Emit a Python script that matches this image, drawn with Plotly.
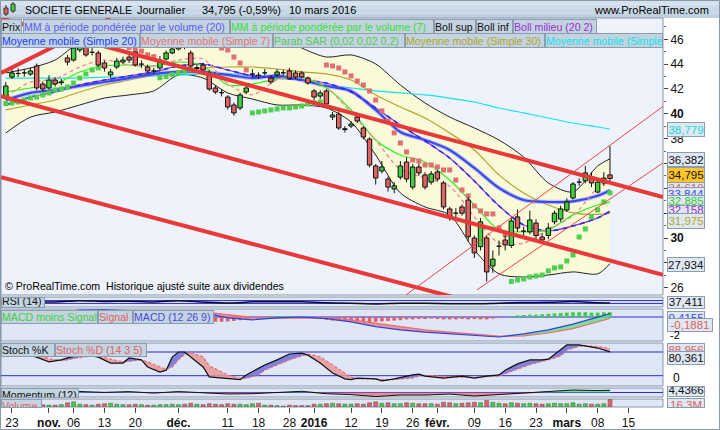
import plotly.graph_objects as go

# ---------------- data ----------------
# day index 0 = 22 Oct 2015 ... 98 = 10 Mar 2016 (trading days)
OPEN = [41.27, 42.96, 43.25, 43.30, 43.20, 43.85, 42.40, 42.08, 42.72, 42.50,
        44.50, 44.33, 45.14, 45.46, 44.95, 44.90, 44.10, 43.13, 43.77, 44.17,
        44.57, 44.98, 44.00, 43.77, 43.45, 43.69, 44.41, 44.90, 45.22, 45.78,
        44.90, 43.65, 43.93, 43.29, 42.08, 41.70, 41.35, 40.71, 40.47, 41.76,
        43.20, 43.10, 43.30, 42.88, 43.13, 43.30, 43.45, 43.29, 43.29, 42.88,
        41.84, 41.43, 41.84, 39.74, 39.98, 38.73, 39.02, 39.74, 38.86, 37.97,
        35.80, 35.40, 34.75, 33.95, 34.90, 36.12, 34.10, 35.72, 35.08, 34.50,
        35.32, 34.43, 32.34, 32.00, 32.50, 33.06, 30.00, 29.30, 30.00, 27.75,
        29.34, 29.84, 29.40, 31.70, 30.55, 30.50, 31.20, 30.08, 30.20, 31.30,
        31.53, 32.26, 33.22, 34.50, 34.60, 34.90, 33.70, 34.43, 35.08]
HIGH = [42.56, 43.69, 43.65, 43.60, 43.70, 44.05, 42.60, 43.10, 42.95, 42.80,
        44.75, 45.50, 45.80, 45.70, 45.30, 45.10, 44.30, 43.60, 44.50, 44.60,
        44.80, 45.00, 44.30, 43.95, 43.70, 44.65, 45.10, 45.45, 45.90, 46.00,
        45.10, 44.00, 44.10, 43.50, 42.30, 42.00, 41.50, 40.90, 41.70, 42.30,
        43.60, 43.35, 43.60, 43.10, 43.60, 43.55, 43.70, 43.50, 43.45, 43.00,
        42.00, 41.90, 42.00, 40.15, 40.20, 39.00, 39.40, 40.05, 39.00, 38.10,
        35.95, 36.20, 34.95, 34.50, 36.20, 36.50, 35.95, 36.00, 35.30, 35.40,
        35.50, 34.60, 32.50, 32.40, 32.70, 33.30, 30.20, 31.60, 30.20, 29.00,
        29.80, 30.20, 31.70, 32.30, 30.90, 32.20, 31.50, 30.40, 31.20, 32.20,
        32.60, 33.20, 34.50, 34.80, 35.80, 35.30, 34.80, 35.30, 37.40]
LOW = [41.11, 42.80, 42.95, 43.00, 43.05, 41.90, 41.80, 41.95, 42.20, 42.30,
       43.90, 44.20, 44.95, 44.60, 44.70, 43.80, 43.40, 42.90, 43.60, 44.00,
       44.10, 43.80, 43.70, 43.30, 43.25, 43.50, 44.30, 44.80, 45.10, 45.20,
       43.70, 43.35, 43.35, 41.85, 41.60, 41.40, 40.35, 39.85, 40.30, 41.60,
       42.95, 42.80, 43.10, 42.40, 42.95, 43.10, 42.75, 42.80, 42.85, 42.35,
       41.10, 41.20, 40.60, 39.50, 38.70, 38.50, 38.85, 39.25, 37.95, 35.70,
       34.30, 35.20, 33.75, 33.60, 34.70, 34.50, 33.90, 35.00, 33.90, 34.30,
       34.55, 32.30, 31.40, 31.50, 31.80, 29.70, 28.40, 29.00, 26.50, 27.20,
       28.60, 29.00, 29.20, 30.50, 30.20, 30.30, 29.90, 29.60, 29.90, 31.10,
       31.30, 32.10, 33.10, 34.20, 34.40, 34.10, 33.60, 34.20, 34.60]
CLOSE = [42.24, 43.29, 43.30, 43.26, 43.45, 42.08, 42.00, 42.72, 42.40, 42.57,
         44.17, 45.30, 45.46, 44.74, 45.00, 43.93, 43.69, 43.37, 44.25, 44.33,
         44.33, 43.93, 44.05, 43.45, 43.50, 44.33, 44.90, 45.22, 45.62, 45.38,
         43.85, 43.72, 43.53, 42.00, 41.76, 41.65, 40.55, 40.07, 41.52, 42.08,
         43.25, 43.05, 43.35, 42.56, 43.37, 43.28, 42.88, 42.96, 42.96, 42.48,
         41.35, 41.68, 40.79, 39.90, 38.86, 38.80, 39.18, 39.42, 38.13, 35.88,
         34.83, 35.72, 34.10, 34.20, 35.80, 34.75, 35.72, 35.24, 34.10, 35.16,
         34.75, 32.50, 31.70, 32.05, 32.00, 30.10, 28.80, 31.30, 27.27, 28.30,
         29.40, 29.44, 31.37, 30.80, 30.60, 31.45, 30.20, 29.84, 30.80, 32.00,
         32.34, 32.90, 34.35, 34.55, 35.24, 34.43, 34.50, 34.83, 34.795]
VOLUME_M = [6, 5, 4, 4, 5, 7, 5, 4, 4, 5,
            9, 11, 6, 5, 4, 6, 7, 8, 6, 5,
            5, 6, 5, 4, 4, 5, 5, 6, 5, 6,
            8, 6, 5, 7, 6, 5, 7, 6, 6, 5,
            7, 8, 4, 4, 3, 2, 4, 3, 3, 3,
            6, 6, 7, 8, 7, 6, 6, 7, 6, 9,
            11, 8, 9, 7, 7, 9, 8, 7, 7, 7,
            6, 10, 9, 7, 8, 9, 10, 9, 14, 10,
            8, 7, 9, 8, 7, 8, 7, 6, 7, 8,
            7, 7, 9, 6, 7, 6, 6, 7, 16.3]
SAR = [40.83, 40.87, 40.95, 41.11, 41.27, 41.35, 41.52, 41.68, 41.92, 42.00,
       42.16, 42.48, 42.88, 43.21, 43.53, 43.70,
       45.80, 45.72, 45.60, 45.50, 45.35, 45.20, 45.05, 44.75, 44.60,
       42.90, 43.00, 43.15, 43.30, 43.42, 43.55,
       46.00, 45.95, 45.80, 45.60, 45.30, 45.14, 44.57, 44.09, 43.53,
       40.07, 40.15, 40.23, 40.31, 40.39, 40.47, 40.47, 40.55, 40.63, 40.79, 40.87, 40.95,
       43.93, 43.85, 43.69, 43.37, 43.05, 42.64, 42.32, 41.84, 41.11, 40.23,
       39.42, 38.46, 37.65, 36.93, 36.28, 36.20, 35.88, 35.88, 35.72, 35.48,
       35.48, 34.67, 33.87, 33.39, 32.58, 32.18, 31.94, 31.94, 30.81, 30.25,
       26.50, 26.62, 26.70, 26.86, 26.94, 27.02, 27.35, 27.59, 27.67, 28.15,
       28.63, 30.08, 30.73, 31.70, 32.26, 32.90, 33.63]

TICK_DAYS = [1, 7, 11, 16, 21, 28, 36, 41, 46, 50, 56, 61, 66, 70, 76, 81, 86, 91, 96, 101]
TICK_LABELS = ["23", "<b>nov.</b>", "06", "13", "20", "<b>déc.</b>", "11", "18", "28",
               "<b>2016</b>", "12", "19", "26", "<b>févr.</b>", "09", "16", "23",
               "<b>mars</b>", "08", "15"]
PRICE_TICKS = [26, 28, 30, 32, 34, 36, 38, 40, 42, 44, 46]
PRICE_TICK_LABELS = ["26", "28", "<b>30</b>", "32", "34", "36", "38", "<b>40</b>", "42", "44", "46"]

# indicator values read every 4 sessions (day index)
IND_DAYS = [0, 4, 8, 12, 16, 20, 24, 28, 32, 36, 40, 44, 48, 52, 56, 60, 64, 68, 72, 76, 80, 84, 88, 92, 96, 98]
BOLL_SUP = [43.29, 43.69, 44.33, 45.78, 46.43, 46.59, 46.10, 45.46, 46.27, 46.75, 46.75, 46.35, 45.30,
            44.57, 44.74, 44.01, 42.32, 40.87, 39.74, 38.86, 37.89, 36.52, 34.43, 33.71, 35.80, 36.382]
BOLL_INF = [38.46, 39.74, 40.15, 40.71, 41.27, 41.52, 41.84, 43.13, 42.88, 41.68, 41.19, 40.71, 40.71,
            40.47, 39.34, 36.68, 33.63, 32.50, 31.86, 29.04, 27.11, 26.86, 27.02, 27.27, 27.11, 27.934]
SMA20 = [40.71, 41.35, 41.76, 42.32, 42.72, 43.05, 43.37, 43.85, 44.01, 43.53, 43.05, 42.88, 42.72,
         42.48, 41.76, 40.47, 39.10, 37.81, 36.44, 34.59, 32.58, 31.05, 30.57, 30.97, 31.62, 32.158]
VWMA20 = [41.11, 41.68, 41.92, 42.24, 42.56, 42.88, 43.21, 43.37, 43.37, 43.13, 42.88, 43.05, 42.72,
          42.24, 41.84, 40.31, 38.54, 37.89, 37.09, 35.64, 34.03, 33.06, 32.90, 32.95, 33.40, 33.844]
SMA30 = [40.31, 40.71, 41.11, 41.76, 42.32, 42.72, 43.13, 43.45, 43.69, 43.77, 43.77, 43.61, 43.37,
         43.21, 42.72, 41.52, 40.55, 39.66, 38.46, 37.09, 35.08, 33.63, 32.66, 32.02, 31.90, 31.975]
SMA_LONG = [42.88, 42.88, 42.88, 42.88, 42.96, 42.96, 43.05, 43.13, 43.21, 43.21, 43.13, 42.96, 42.72,
            42.32, 42.08, 41.84, 41.68, 41.52, 41.27, 40.95, 40.47, 40.07, 39.66, 39.26, 38.94, 38.779]
VWMA7 = [41.76, 42.08, 42.40, 43.37, 43.85, 43.93, 43.85, 44.17, 43.85, 42.32, 42.40, 42.80, 42.96,
         42.08, 40.31, 37.89, 36.68, 36.12, 34.67, 32.66, 30.65, 30.49, 30.65, 31.86, 32.66, 32.885]
SMA7 = [41.35, 42.56, 42.80, 43.77, 44.33, 43.93, 43.85, 44.33, 44.41, 42.44, 41.55, 42.74, 43.05,
        42.16, 40.08, 37.87, 35.52, 34.84, 34.17, 31.70, 29.60, 29.60, 30.72, 31.78, 34.04, 34.61]
RSI = [60, 58, 50, 68, 58, 62, 50, 68, 50, 35, 52, 55, 53, 38, 32, 22, 33, 32, 27, 25, 34, 42, 45, 58, 40, 37.411]
MACD = [0.35, 0.45, 0.55, 0.85, 0.9, 0.8, 0.65, 0.75, 0.55, -0.1, -0.35, -0.1, 0.0, -0.2, -0.6, -1.2,
        -1.6, -1.9, -2.1, -2.3, -2.5, -2.1, -1.6, -0.9, 0.0, 0.4155]
SIGNAL = [0.3, 0.4, 0.5, 0.65, 0.8, 0.82, 0.75, 0.72, 0.65, 0.3, -0.05, -0.15, -0.1, -0.1, -0.35, -0.75,
          -1.2, -1.6, -1.9, -2.15, -2.4, -2.35, -2.0, -1.45, -0.6, -0.1881]
MOMENTUM = [1.0, 0.5, -0.8, 2.0, 0.24, 1.76, -1.2, 1.9, -0.8, -2.95, -2.4, -0.16, 2.4, -2.46, -4.2,
            -8.1, -5.0, -5.1, -3.1, -7.0, -4.7, -1.1, 2.0, 4.95, 3.9, 4.4366]
MACD_HIST = [0.05, 0.05, 0.08, 0.1, 0.1, 0.08, 0.05, 0.05, 0.05, 0.1, 0.2, 0.25, 0.25, 0.22, 0.2, 0.15,
             0.1, 0.05, 0.0, -0.05, -0.05, -0.1, -0.1, -0.1, -0.05, 0.0, 0.05, 0.05,
             0.05, -0.05, -0.2, -0.3, -0.4, -0.5, -0.6, -0.6, -0.55, -0.5,
             -0.4, -0.2, -0.1, 0.0, 0.05, 0.1, 0.1, 0.12, 0.1, 0.05,
             0.0, -0.05, -0.15, -0.25, -0.35, -0.45, -0.5, -0.5, -0.55, -0.6,
             -0.65, -0.65, -0.6, -0.55, -0.5, -0.45, -0.4, -0.3, -0.3, -0.25,
             -0.25, -0.2, -0.25, -0.3, -0.3, -0.3, -0.25, -0.3, -0.25, -0.3,
             -0.3, -0.2, -0.1, 0.0, 0.1, 0.2, 0.25, 0.3, 0.3, 0.35,
             0.4, 0.45, 0.5, 0.55, 0.6, 0.6, 0.6, 0.55, 0.55, 0.6, 0.6]

STOCH_DAYS = [0, 2, 5, 7, 9, 10, 12, 14, 15, 17, 19, 20, 22, 23, 25, 26, 27, 28, 29, 30, 32, 33, 36, 38,
              39, 41, 42, 44, 46, 48, 49, 51, 53, 55, 56, 57, 60, 61, 63, 66, 67, 68, 71, 74, 76, 78,
              80, 81, 83, 85, 87, 88, 90, 91, 93, 94, 96, 98]
STOCH_K = [75, 78, 67, 55, 60, 65, 72, 70, 67, 52, 52, 65, 60, 42, 29, 34, 67, 80, 80, 67, 42, 17, 12, 10,
           22, 39, 47, 60, 75, 77, 72, 52, 27, 12, 10, 14, 12, 7, 12, 22, 24, 19, 14, 19, 14, 19, 22, 34,
           50, 60, 60, 62, 85, 98, 98, 95, 90, 80.361]
STOCH_D = [72, 76, 74, 63, 58, 60, 66, 70, 69, 62, 55, 56, 60, 55, 42, 36, 42, 60, 74, 78, 68, 45, 22, 13,
           13, 22, 34, 47, 60, 70, 75, 68, 48, 28, 16, 12, 12, 10, 10, 14, 19, 21, 18, 16, 16, 17, 19, 25,
           36, 48, 56, 60, 70, 85, 94, 96, 94, 88.956]

# hand-drawn trend lines: (day, price) end points
THICK_LINES = [((-0.78, 47.69), (106.6, 33.30)),
               ((-0.78, 41.41), (106.6, 27.03)),
               ((-0.78, 34.89), (106.6, 20.77)),
               ((-0.78, 43.28), (17.0, 47.70))]
THIN_LINES = [((64.9, 25.41), (106.6, 40.60)),
              ((76.4, 25.82), (106.6, 36.05))]

# ---------------- layout constants ----------------
FONT = "Liberation Sans, Arial, sans-serif"
W, H = 720, 430
PL, PR, PT, PB = 1, 663, 18, 407
BODY_HALF = 0.36  # candle body half width in sessions


def px_x(px):
    return (px - PL) / (PR - PL)


def px_y(py):
    return (PB - py) / (PB - PT)


PANELS = {  # top, bottom pixel rows
    "y": (18, 295), "y2": (297, 307), "y3": (309, 341),
    "y4": (343, 386), "y5": (388, 397), "y6": (399, 407)}

DAYS = list(range(len(CLOSE)))
fig = go.Figure()

# --- Bollinger band fill + lines
sp = dict(shape="spline", smoothing=0.8)
fig.add_trace(go.Scatter(x=IND_DAYS, y=BOLL_INF, mode="lines", line=dict(color="#222", width=1, **sp)))
fig.add_trace(go.Scatter(x=IND_DAYS, y=BOLL_SUP, mode="lines", fill="tonexty", fillcolor="rgba(250,250,215,0.95)",
                         line=dict(color="#222", width=1, **sp)))
fig.add_trace(go.Scatter(x=IND_DAYS, y=SMA_LONG, mode="lines", line=dict(color="#11e3ef", width=1.2, **sp)))
fig.add_trace(go.Scatter(x=IND_DAYS, y=SMA30, mode="lines", line=dict(color="#b4a52a", width=1.2, **sp)))
fig.add_trace(go.Scatter(x=IND_DAYS, y=VWMA20, mode="lines", line=dict(color="rgba(120,140,255,0.45)", width=4.5, **sp)))
fig.add_trace(go.Scatter(x=IND_DAYS, y=VWMA20, mode="lines", line=dict(color="#3a48f2", width=2.2, **sp)))
fig.add_trace(go.Scatter(x=IND_DAYS, y=SMA20, mode="lines", line=dict(color="#9a2fd0", width=1.2, **sp)))
fig.add_trace(go.Scatter(x=IND_DAYS, y=SMA20, mode="lines", line=dict(color="#2030ff", width=1.6, dash="5px,4px", **sp)))
fig.add_trace(go.Scatter(x=IND_DAYS, y=VWMA7, mode="lines", line=dict(color="#29ef29", width=1.2, **sp)))
fig.add_trace(go.Scatter(x=IND_DAYS, y=SMA7, mode="lines", line=dict(color="#f08a8a", width=1.3, dash="4px,3px", **sp)))

# --- parabolic SAR
sar_col = ["#4fcf4f" if s < c else "#e07070" for s, c in zip(SAR, CLOSE)]
fig.add_trace(go.Scatter(x=DAYS, y=SAR, mode="markers",
                         marker=dict(symbol="square", size=5, color=sar_col, line=dict(width=0))))

# --- candles (drawn as scatter paths so they sit above the indicator lines)
wx, wy = [], []
for d in DAYS:
    wx += [d, d, None]
    wy += [LOW[d], HIGH[d], None]
fig.add_trace(go.Scatter(x=wx, y=wy, mode="lines", line=dict(color="#111", width=1)))
for rising, colr in [(True, "#3fcf3f"), (False, "#e06262")]:
    bx, by = [], []
    for d in DAYS:
        if (CLOSE[d] >= OPEN[d]) == rising:
            o, c = OPEN[d], CLOSE[d]
            bx += [d - BODY_HALF, d + BODY_HALF, d + BODY_HALF, d - BODY_HALF, d - BODY_HALF, None]
            by += [o, o, c, c, o, None]
    fig.add_trace(go.Scatter(x=bx, y=by, mode="lines", fill="toself", fillcolor=colr,
                             line=dict(color="#111", width=1)))

# --- trend lines
for (a, b) in THICK_LINES:
    fig.add_trace(go.Scatter(x=[a[0], b[0]], y=[a[1], b[1]], mode="lines", line=dict(color="#e83838", width=4)))
for (a, b) in THIN_LINES:
    fig.add_trace(go.Scatter(x=[a[0], b[0]], y=[a[1], b[1]], mode="lines", line=dict(color="#ee4444", width=1)))

# --- RSI
fig.add_trace(go.Scatter(x=IND_DAYS, y=RSI, yaxis="y2", mode="lines", line=dict(color="#111", width=1.5, **sp)))

# --- MACD
hist_col = ["#3fcf3f" if v >= 0 else "#e06262" for v in MACD_HIST]
fig.add_trace(go.Bar(x=DAYS, y=MACD_HIST, yaxis="y3", marker=dict(color=hist_col, line=dict(width=0)), width=0.6))
mx_hi = [max(a, b) for a, b in zip(MACD, SIGNAL)]
mx_lo = [min(a, b) for a, b in zip(MACD, SIGNAL)]
fig.add_trace(go.Scatter(x=IND_DAYS, y=SIGNAL, yaxis="y3", mode="lines", line=dict(width=0)))
fig.add_trace(go.Scatter(x=IND_DAYS, y=mx_hi, yaxis="y3", mode="lines", line=dict(width=0), fill="tonexty", fillcolor="rgba(90,220,120,0.75)"))
fig.add_trace(go.Scatter(x=IND_DAYS, y=SIGNAL, yaxis="y3", mode="lines", line=dict(width=0)))
fig.add_trace(go.Scatter(x=IND_DAYS, y=mx_lo, yaxis="y3", mode="lines", line=dict(width=0), fill="tonexty", fillcolor="rgba(235,120,120,0.75)"))
fig.add_trace(go.Scatter(x=IND_DAYS, y=SIGNAL, yaxis="y3", mode="lines", line=dict(color="#e87070", width=1.2)))
fig.add_trace(go.Scatter(x=IND_DAYS, y=MACD, yaxis="y3", mode="lines", line=dict(color="#3040e0", width=1.2)))

# --- Stochastic
k_hi = [max(a, b) for a, b in zip(STOCH_K, STOCH_D)]
k_lo = [min(a, b) for a, b in zip(STOCH_K, STOCH_D)]
fig.add_trace(go.Scatter(x=STOCH_DAYS, y=STOCH_D, yaxis="y4", mode="lines", line=dict(width=0)))
fig.add_trace(go.Scatter(x=STOCH_DAYS, y=k_hi, yaxis="y4", mode="lines", line=dict(width=0), fill="tonexty", fillcolor="rgba(110,110,215,0.85)"))
fig.add_trace(go.Scatter(x=STOCH_DAYS, y=STOCH_D, yaxis="y4", mode="lines", line=dict(width=0)))
fig.add_trace(go.Scatter(x=STOCH_DAYS, y=k_lo, yaxis="y4", mode="lines", line=dict(width=0), fill="tonexty", fillcolor="rgba(232,150,150,0.85)"))
fig.add_trace(go.Scatter(x=STOCH_DAYS, y=STOCH_D, yaxis="y4", mode="lines", line=dict(color="#e87070", width=1.2, dash="3px,2px")))
fig.add_trace(go.Scatter(x=STOCH_DAYS, y=STOCH_K, yaxis="y4", mode="lines", line=dict(color="#111", width=1.2)))

# --- Momentum
m_pos = [max(v, 0) for v in MOMENTUM]
m_neg = [min(v, 0) for v in MOMENTUM]
zeros = [0] * len(MOMENTUM)
fig.add_trace(go.Scatter(x=IND_DAYS, y=zeros, yaxis="y5", mode="lines", line=dict(width=0)))
fig.add_trace(go.Scatter(x=IND_DAYS, y=m_pos, yaxis="y5", mode="lines", line=dict(width=0), fill="tonexty", fillcolor="rgba(90,220,120,0.8)"))
fig.add_trace(go.Scatter(x=IND_DAYS, y=zeros, yaxis="y5", mode="lines", line=dict(width=0)))
fig.add_trace(go.Scatter(x=IND_DAYS, y=m_neg, yaxis="y5", mode="lines", line=dict(width=0), fill="tonexty", fillcolor="rgba(235,120,120,0.8)"))
fig.add_trace(go.Scatter(x=IND_DAYS, y=MOMENTUM, yaxis="y5", mode="lines", line=dict(color="#111", width=1)))

# --- Volume
vol_col = ["#3fcf3f" if c >= o else "#e06262" for o, c in zip(OPEN, CLOSE)]
fig.add_trace(go.Bar(x=DAYS, y=VOLUME_M, yaxis="y6", marker=dict(color=vol_col, line=dict(color="#555", width=0.5)), width=0.65))

# ---------------- shapes ----------------
shapes = []
hdr = ["#d5e2ed", "#cddcea", "#c6d7e5", "#bfd1e0"]
for k, c in enumerate(hdr):
    shapes.append(dict(type="rect", xref="paper", yref="paper", x0=px_x(0), x1=px_x(720),
                       y0=px_y(4.5 * (k + 1)), y1=px_y(4.5 * k), line=dict(width=0),
                       fillcolor=c, layer="below"))
bgs = {"y": "#eef2fb", "y2": "#dfe7f7", "y3": "#dfe7f7", "y4": "#dfe7f7", "y5": "#dfe7f7", "y6": "#dfe7f7"}
for key, (t, b) in PANELS.items():
    shapes.append(dict(type="rect", xref="paper", yref="paper", x0=0, x1=1, y0=px_y(b), y1=px_y(t),
                       fillcolor=bgs[key], line=dict(color="#8596aa", width=1), layer="below"))
for ax, val in [("y2", 70), ("y2", 30), ("y3", 0), ("y4", 80), ("y4", 20), ("y5", 0)]:
    shapes.append(dict(type="line", xref="paper", yref=ax, x0=0, x1=1, y0=val, y1=val,
                       line=dict(color="#2b2bdc", width=1), layer="below"))
shapes.append(dict(type="rect", xref="paper", yref="paper", x0=px_x(0.5), x1=px_x(719.5), y0=px_y(429.5),
                   y1=px_y(0.5), line=dict(color="#8a99a8", width=1)))
shapes += [dict(type="line", xref="paper", yref="paper", x0=px_x(6), x1=px_x(6), y0=px_y(5), y1=px_y(16), line=dict(color="#333", width=1)),
           dict(type="rect", xref="paper", yref="paper", x0=px_x(4), x1=px_x(8), y0=px_y(14), y1=px_y(8), fillcolor="#e06262", line=dict(color="#333", width=1)),
           dict(type="line", xref="paper", yref="paper", x0=px_x(13), x1=px_x(13), y0=px_y(2), y1=px_y(13), line=dict(color="#333", width=1)),
           dict(type="rect", xref="paper", yref="paper", x0=px_x(11), x1=px_x(15), y0=px_y(11), y1=px_y(4), fillcolor="#3fcf3f", line=dict(color="#333", width=1))]

# ---------------- annotations ----------------
ann = []
BOX_BG = "#c3d3e0"
BOX_BORDER = "#8b9db0"


def box(text, x0, x1, y0, y1, color, bg=BOX_BG, size=10.6, align="left", valign="middle"):
    ann.append(dict(xref="paper", yref="paper", x=px_x(x0), y=px_y(y0), xanchor="left", yanchor="top",
                    width=x1 - x0 - 2, height=y1 - y0 - 2, text=text, showarrow=False, align=align,
                    valign=valign, bgcolor=bg, bordercolor=BOX_BORDER, borderwidth=1, borderpad=0,
                    font=dict(family=FONT, size=size, color=color)))


def label(text, x, y, color="black", size=11, xanchor="left"):
    ann.append(dict(xref="paper", yref="paper", x=px_x(x), y=px_y(y), xanchor=xanchor, yanchor="middle",
                    text=text, showarrow=False, font=dict(family=FONT, size=size, color=color)))


label("SOCIETE GENERALE", 23, 9.5, size=10.6)
label("Journalier", 135, 9.5, size=11)
label("34,795 (-0,59%)", 200, 9.5, size=11)
label("10 mars 2016", 287, 9.5, size=11)
label("www.ProRealTime.com", 711, 10, xanchor="right", size=11)

box("Prix", 1, 22, 19, 34, "#111")
box("MM à période pondérée par le volume (20)", 23, 230, 19, 34, "#5c5cf2")
box("MM à période pondérée par le volume (7)", 230, 434, 19, 34, "#33e033")
box("Boll sup", 434, 476, 19, 34, "#111")
box("Boll inf", 476, 513, 19, 34, "#111")
box("Boll milieu (20 2)", 513, 597, 19, 34, "#9a2fd0")
box("Moyenne mobile (Simple 20)", 1, 140, 33, 48, "#1a3cff")
box("Moyenne mobile (Simple 7)", 140, 273, 33, 48, "#e57373")
box("Parab SAR (0,02 0,02 0,2)", 273, 405, 33, 48, "#55c855")
box("Moyenne mobile (Simple 30)", 405, 545, 33, 48, "#b4a52a")
box("Moyenne mobile (Simple", 545, 663, 33, 48, "#11e3ef")

label("© ProRealTime.com  Historique ajusté suite aux dividendes", 3, 285.5, size=10.6)

box("RSI (14)", 1, 45, 297, 308, "#111", valign="bottom")
box("MACD moins Signal", 1, 98, 310, 324, "#40d040")
box("Signal", 98, 133, 310, 324, "#e06262")
box("MACD (12 26 9)", 133, 214, 310, 324, "#4a4ae0")
box("Stoch %K", 1, 55, 343, 357, "#111")
box("Stoch %D (14 3 5)", 55, 147, 343, 357, "#e06262")
box("Momentum (12)", 1, 79, 388, 398, "#111", valign="top")
box("Volume", 1, 42, 399, 408, "#e06262", valign="top")


def fmt(v, n=3):
    return f"{v:.{n}f}".replace(".", ",")


box(fmt(SMA_LONG[-1]), 667, 705, 122, 137, "#11d8e6", bg="#dfe7f1", align="center", size=11.5)
box(fmt(BOLL_SUP[-1]), 667, 705, 152, 167, "#111", bg="#dfe7f1", align="center", size=11.5)
box(fmt(SMA7[-1]), 667, 705, 181, 195, "#e06262", bg="#dfe7f1", align="center", size=11.5)
box(fmt(CLOSE[-1]), 667, 705, 167, 183, "#111", bg="#ffc52a", align="center", size=11.5)
box(fmt(VWMA20[-1]), 667, 705, 187, 200, "#3a48f2", bg="#dfe7f1", align="center", size=11.5)
box(fmt(VWMA7[-1]), 667, 705, 195, 207, "#33cc33", bg="#dfe7f1", align="center", size=11.5)
box(fmt(SMA20[-1]), 667, 705, 205, 214, "#9a2fd0", bg="#dfe7f1", align="center", size=11.5)
box(fmt(SMA30[-1]), 667, 705, 213, 229, "#b4a52a", bg="#dfe7f1", align="center", size=11.5)
box(fmt(BOLL_INF[-1]), 667, 705, 257, 272, "#111", bg="#dfe7f1", align="center", size=11.5)
box(fmt(RSI[-1]), 667, 705, 296, 309, "#111", bg="#dfe7f1", align="center", valign="bottom", size=11.5)
box(fmt(MACD[-1], 4), 667, 705, 311, 320, "#3a48f2", bg="#dfe7f1", align="center", valign="top", size=11.5)
box(fmt(SIGNAL[-1], 4), 667, 713, 318, 332, "#e06262", bg="#dfe7f1", align="center", size=11.5)
label("-2", 668, 335, size=11)
box(fmt(STOCH_D[-1]), 667, 705, 343, 353, "#e06262", bg="#dfe7f1", align="center", valign="top", size=11.5)
box(fmt(STOCH_K[-1]), 667, 705, 351, 365, "#111", bg="#dfe7f1", align="center", size=11.5)
label("0", 671, 378, size=12)
box(fmt(MOMENTUM[-1], 4), 667, 705, 386, 397, "#111", bg="#dfe7f1", align="center", valign="bottom", size=11.5)
box(fmt(VOLUME_M[-1], 1) + "M", 667, 705, 398, 408, "#e06262", bg="#dfe7f1", align="center", valign="top", size=11.5)

hidden = dict(showgrid=False, zeroline=False, showticklabels=False, ticks="", anchor="x", side="right", fixedrange=True)
fig.update_layout(
    width=W, height=H, margin=dict(l=PL, r=W - PR, t=PT, b=H - PB, pad=0),
    paper_bgcolor="white", plot_bgcolor="white", showlegend=False,
    font=dict(family=FONT, size=11, color="black"),
    xaxis=dict(domain=[0, 1], range=[-0.78, 106.6], anchor="y6", tickmode="array", tickvals=TICK_DAYS,
               ticktext=TICK_LABELS, ticks="outside", ticklen=5, tickcolor="#444", tickfont=dict(size=12, color="#111"),
               showgrid=False, zeroline=False, showline=False),
    yaxis=dict(domain=[px_y(295), px_y(18)], range=[25.41, 47.715], side="right", anchor="x",
               tickmode="array", tickvals=PRICE_TICKS, ticktext=PRICE_TICK_LABELS, ticks="outside",
               ticklen=4, tickcolor="#444", tickfont=dict(size=12, color="#111"), showgrid=False, zeroline=False,
               minor=dict(tickmode="array", tickvals=[27, 29, 31, 33, 35, 37, 39, 41, 43, 45, 47], ticks="outside",
                          ticklen=2, tickcolor="#666")),
    yaxis2=dict(domain=[px_y(307), px_y(297)], range=[-20, 120], **hidden),
    yaxis3=dict(domain=[px_y(341), px_y(309)], range=[-3.0, 1.0], **hidden),
    yaxis4=dict(domain=[px_y(386), px_y(343)], range=[-6.1, 102.8], **hidden),
    yaxis5=dict(domain=[px_y(397), px_y(388)], range=[-9, 9], **hidden),
    yaxis6=dict(domain=[px_y(407), px_y(399)], range=[0, 17], **hidden),
    shapes=shapes, annotations=ann, bargap=0.3,
)
fig.write_html("out.html", config={"displayModeBar": False, "staticPlot": True},
               post_script="document.body.style.margin='0px';document.body.style.overflow='hidden';")
